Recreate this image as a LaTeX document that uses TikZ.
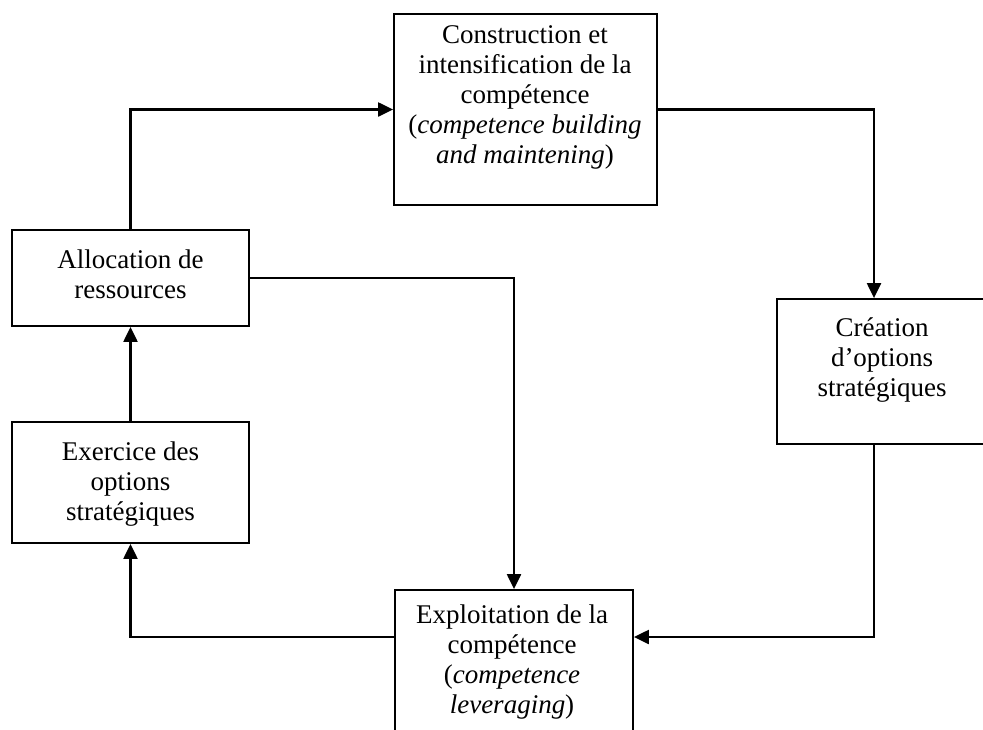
\documentclass[tikz,border=0pt]{standalone}
\usepackage{fontspec}
\setmainfont{Liberation Serif}
\usetikzlibrary{arrows.meta}
\begin{document}
\begin{tikzpicture}[x=1pt,y=-1pt,
  box/.style={draw,line width=1.8pt,inner sep=0pt},
  txt/.style={anchor=north,inner sep=0pt,align=center,
    font=\fontsize{27}{30}\selectfont},
  arr/.style={line width=2.2pt,-{Triangle[length=15pt,width=14pt]}}]
\useasboundingbox (0,0) rectangle (983,729);
\clip (0,0) rectangle (983,729);

% boxes
\node[box,minimum width=263pt,minimum height=191pt] (build) at (525.5,109.5) {};
\node[box,minimum width=237pt,minimum height=96pt]  (alloc) at (130.5,278) {};
\node[box,minimum width=237pt,minimum height=121pt] (exer)  at (130.5,482.5) {};
\node[box,minimum width=210pt,minimum height=145pt] (creat) at (882,371.5) {};
\node[box,minimum width=238pt,minimum height=170pt] (explo) at (514,675) {};

% labels
\node[txt] (buildt) at (525,22) {\strut Construction et\\intensification de la\\comp\'etence\\(\textit{competence building}\\\textit{and maintening})};
\node[txt] (allot) at (130.5,247) {\strut Allocation de\\ressources};
\node[txt] (exert) at (130.5,439) {\strut Exercice des\\options\\strat\'egiques};
\node[txt] (creatt) at (882,315) {\strut Cr\'eation\\d’options\\strat\'egiques};
\node[txt] (explot) at (512,602) {\strut Exploitation de la\\comp\'etence\\(\textit{competence}\\\textit{leveraging})};

% connectors
\coordinate (low) at (0,637);
\draw[arr] (alloc.north) |- (build.west);
\draw[arr] (build.east) -| ([xshift=-8pt]creat.north);
\draw[arr] (alloc.east) -| (explo.north);
\draw[arr] (exer.north) -- (alloc.south);
\draw[arr] ([xshift=-8pt]creat.south) |- (explo.east |- low);
\draw[arr] (explo.west |- low) -| (exer.south);
\end{tikzpicture}
\end{document}
